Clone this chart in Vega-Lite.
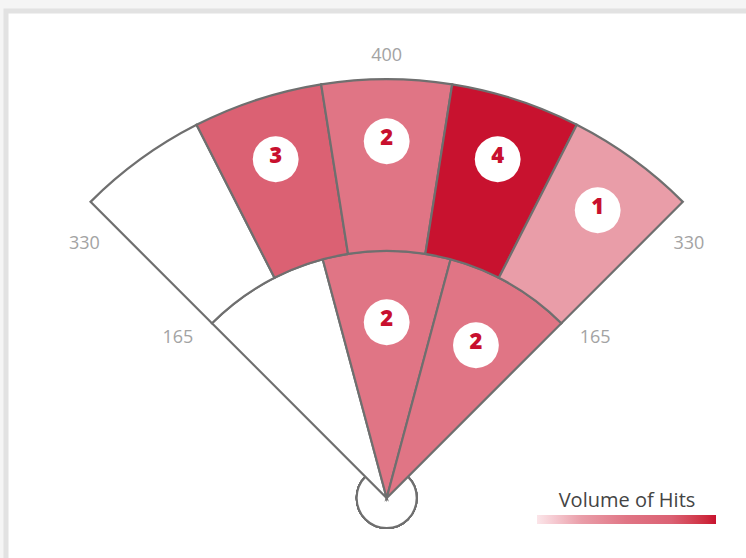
{
  "$schema": "https://vega.github.io/schema/vega-lite/v6.json",
  "width": 746,
  "height": 558,
  "autosize": {"type": "fit", "contains": "padding"},
  "padding": {"left": 6, "top": 11, "right": 0, "bottom": 0},
  "background": "#f5f5f5",
  "config": {
    "view": {"fill": "white", "stroke": "#e2e2e2", "strokeWidth": 5, "strokeDash": [740, 1287, 547]}
  },
  "datasets": {
    "zones": [
      {"ring": "inner", "a0": -45, "a1": -15, "mid": -30, "r0": 0, "r1": 0.59, "hits": 0},
      {"ring": "inner", "a0": -15, "a1": 15, "mid": 0, "r0": 0, "r1": 0.59, "hits": 2},
      {"ring": "inner", "a0": 15, "a1": 45, "mid": 30, "r0": 0, "r1": 0.59, "hits": 2},
      {"ring": "outer", "a0": -45, "a1": -27, "mid": -36, "r0": 0.59, "r1": 1, "hits": 0},
      {"ring": "outer", "a0": -27, "a1": -9, "mid": -18, "r0": 0.59, "r1": 1, "hits": 3},
      {"ring": "outer", "a0": -9, "a1": 9, "mid": 0, "r0": 0.59, "r1": 1, "hits": 2},
      {"ring": "outer", "a0": 9, "a1": 27, "mid": 18, "r0": 0.59, "r1": 1, "hits": 4},
      {"ring": "outer", "a0": 27, "a1": 45, "mid": 36, "r0": 0.59, "r1": 1, "hits": 1}
    ],
    "marks": [
      {"label": "400", "dir": 0, "dist": 1.058},
      {"label": "330", "dir": -49.8, "dist": 0.945},
      {"label": "330", "dir": 49.8, "dist": 0.945},
      {"label": "165", "dir": -52.4, "dist": 0.629},
      {"label": "165", "dir": 52.3, "dist": 0.629}
    ]
  },
  "data": {"name": "zones"},
  "layer": [
    {
      "mark": {"type": "point", "shape": "circle", "size": 3600, "fill": "#ffffff", "stroke": "#6f6f6f", "strokeWidth": 2, "opacity": 1},
      "encoding": {
        "x": {"datum": 0, "type": "quantitative", "scale": {"domain": [-0.909, 0.858], "nice": false, "zero": false}, "axis": null},
        "y": {"datum": 0, "type": "quantitative", "scale": {"domain": [-0.1433, 1.1628], "nice": false, "zero": false}, "axis": null}
      }
    },
    {
      "mark": {"type": "arc", "stroke": "#6f6f6f", "strokeWidth": 2.2},
      "encoding": {
        "x": {"datum": 0, "type": "quantitative"},
        "y": {"datum": 0, "type": "quantitative"},
        "theta": {"field": "a0", "type": "quantitative", "scale": {"type": "linear", "domain": [-45, 45], "range": [-0.785398, 0.785398], "nice": false, "zero": false}},
        "theta2": {"field": "a1"},
        "radius": {"field": "r1", "type": "quantitative", "scale": {"type": "linear", "domain": [0, 1], "range": [0, 418.8], "nice": false, "zero": true}},
        "radius2": {"field": "r0"},
        "color": {
          "condition": {"test": "datum.hits == 0", "value": "#ffffff"},
          "field": "hits",
          "type": "quantitative",
          "scale": {"domain": [0, 1, 2, 3, 4], "range": ["#fbe5e9", "#e99da8", "#e07585", "#db6173", "#c8122f"]},
          "legend": {
            "orient": "none",
            "legendX": 531,
            "legendY": 480,
            "direction": "horizontal",
            "gradientLength": 179,
            "gradientThickness": 9,
            "gradientStrokeWidth": 0,
            "labelOpacity": 0,
            "labelFontSize": 1,
            "title": "Volume of Hits",
            "titleFont": "Open Sans",
            "titleFontSize": 20,
            "titleFontWeight": "normal",
            "titleColor": "#444444",
            "titleAnchor": "middle",
            "titleOrient": "top",
            "titlePadding": 4,
            "padding": 0
          }
        }
      }
    },
    {
      "transform": [{"filter": "datum.hits > 0 && datum.ring == 'outer'"}],
      "mark": {"type": "text", "text": "●", "font": "DejaVu Sans", "fontSize": 60, "color": "#ffffff", "baseline": "middle", "align": "center"},
      "encoding": {
        "x": {"datum": 0, "type": "quantitative"},
        "y": {"datum": 0, "type": "quantitative"},
        "theta": {"field": "mid", "type": "quantitative"},
        "radius": {"datum": 0.857, "type": "quantitative"}
      }
    },
    {
      "transform": [{"filter": "datum.hits > 0 && datum.ring == 'inner'"}],
      "mark": {"type": "text", "text": "●", "font": "DejaVu Sans", "fontSize": 60, "color": "#ffffff", "baseline": "middle", "align": "center"},
      "encoding": {
        "x": {"datum": 0, "type": "quantitative"},
        "y": {"datum": 0, "type": "quantitative"},
        "theta": {"field": "mid", "type": "quantitative"},
        "radius": {"datum": 0.426, "type": "quantitative"}
      }
    },
    {
      "transform": [{"filter": "datum.hits > 0 && datum.ring == 'outer'"}],
      "mark": {"type": "text", "font": "Open Sans", "fontSize": 22, "fontWeight": 800, "color": "#c8102e", "baseline": "middle", "align": "center", "dy": -1},
      "encoding": {
        "x": {"datum": 0, "type": "quantitative"},
        "y": {"datum": 0, "type": "quantitative"},
        "theta": {"field": "mid", "type": "quantitative"},
        "radius": {"datum": 0.857, "type": "quantitative"},
        "text": {"field": "hits", "type": "quantitative"}
      }
    },
    {
      "transform": [{"filter": "datum.hits > 0 && datum.ring == 'inner'"}],
      "mark": {"type": "text", "font": "Open Sans", "fontSize": 22, "fontWeight": 800, "color": "#c8102e", "baseline": "middle", "align": "center", "dy": -1},
      "encoding": {
        "x": {"datum": 0, "type": "quantitative"},
        "y": {"datum": 0, "type": "quantitative"},
        "theta": {"field": "mid", "type": "quantitative"},
        "radius": {"datum": 0.426, "type": "quantitative"},
        "text": {"field": "hits", "type": "quantitative"}
      }
    },
    {
      "data": {"name": "marks"},
      "mark": {"type": "text", "font": "Open Sans", "fontSize": 18, "color": "#a3a3a3", "baseline": "middle", "align": "center", "dy": 1},
      "encoding": {
        "x": {"datum": 0, "type": "quantitative"},
        "y": {"datum": 0, "type": "quantitative"},
        "theta": {"field": "dir", "type": "quantitative"},
        "radius": {"field": "dist", "type": "quantitative"},
        "text": {"field": "label", "type": "nominal"}
      }
    }
  ]
}
